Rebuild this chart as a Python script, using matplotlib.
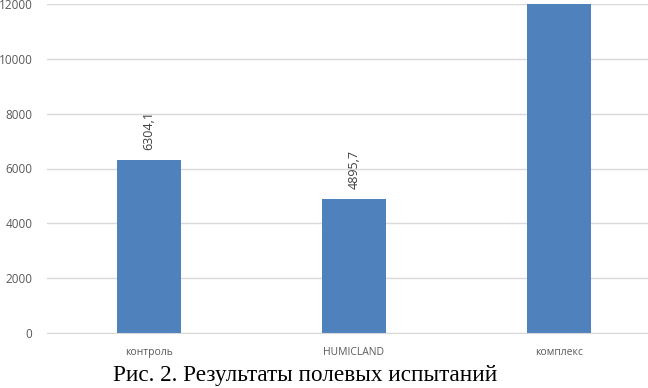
import matplotlib
matplotlib.use("Agg")
import matplotlib.pyplot as plt

categories = ["контроль", "HUMICLAND", "комплекс"]
values = [6304.1, 4895.7, 12000.0]
labels = ["6304,1", "4895,7", None]
yticks = [0, 2000, 4000, 6000, 8000, 10000, 12000]

fig = plt.figure(figsize=(6.48, 3.88), dpi=100)
ax = fig.add_axes([46.5/648, 1-333/388, 615/648, 329/388])
x = list(range(len(categories)))
ax.bar(x, values, width=0.31, color="#4F81BD", zorder=2)
ax.set_xlim(-0.5, 2.5)
ax.set_ylim(0, 12000)
ax.set_yticks(yticks)
ax.set_yticklabels([str(t) for t in yticks], color="#595959", fontsize=8.5, family="Open Sans")
ax.set_xticks(x)
ax.set_xticklabels(categories, color="#595959", fontsize=7.5, family="Open Sans")
ax.tick_params(axis="both", length=0)
ax.tick_params(axis="y", pad=10)
ax.tick_params(axis="x", pad=10)
ax.grid(axis="y", color="#D9D9D9", linewidth=1, zorder=0)
for s in ["top", "right", "left"]:
    ax.spines[s].set_visible(False)
ax.spines["bottom"].set_color("#D9D9D9")
for xi, v, lab in zip(x, values, labels):
    if lab:
        ax.annotate(lab, (xi, v), xytext=(0, 7), textcoords="offset points",
                    rotation=90, ha="center", va="bottom", fontsize=9,
                    color="#404040", family="Open Sans")
fig.text(305/648, 1-375/388, "Рис. 2. Результаты полевых испытаний",
         ha="center", va="center", fontsize=16.7, family="Liberation Serif")
fig.savefig("out.png", dpi=100)
